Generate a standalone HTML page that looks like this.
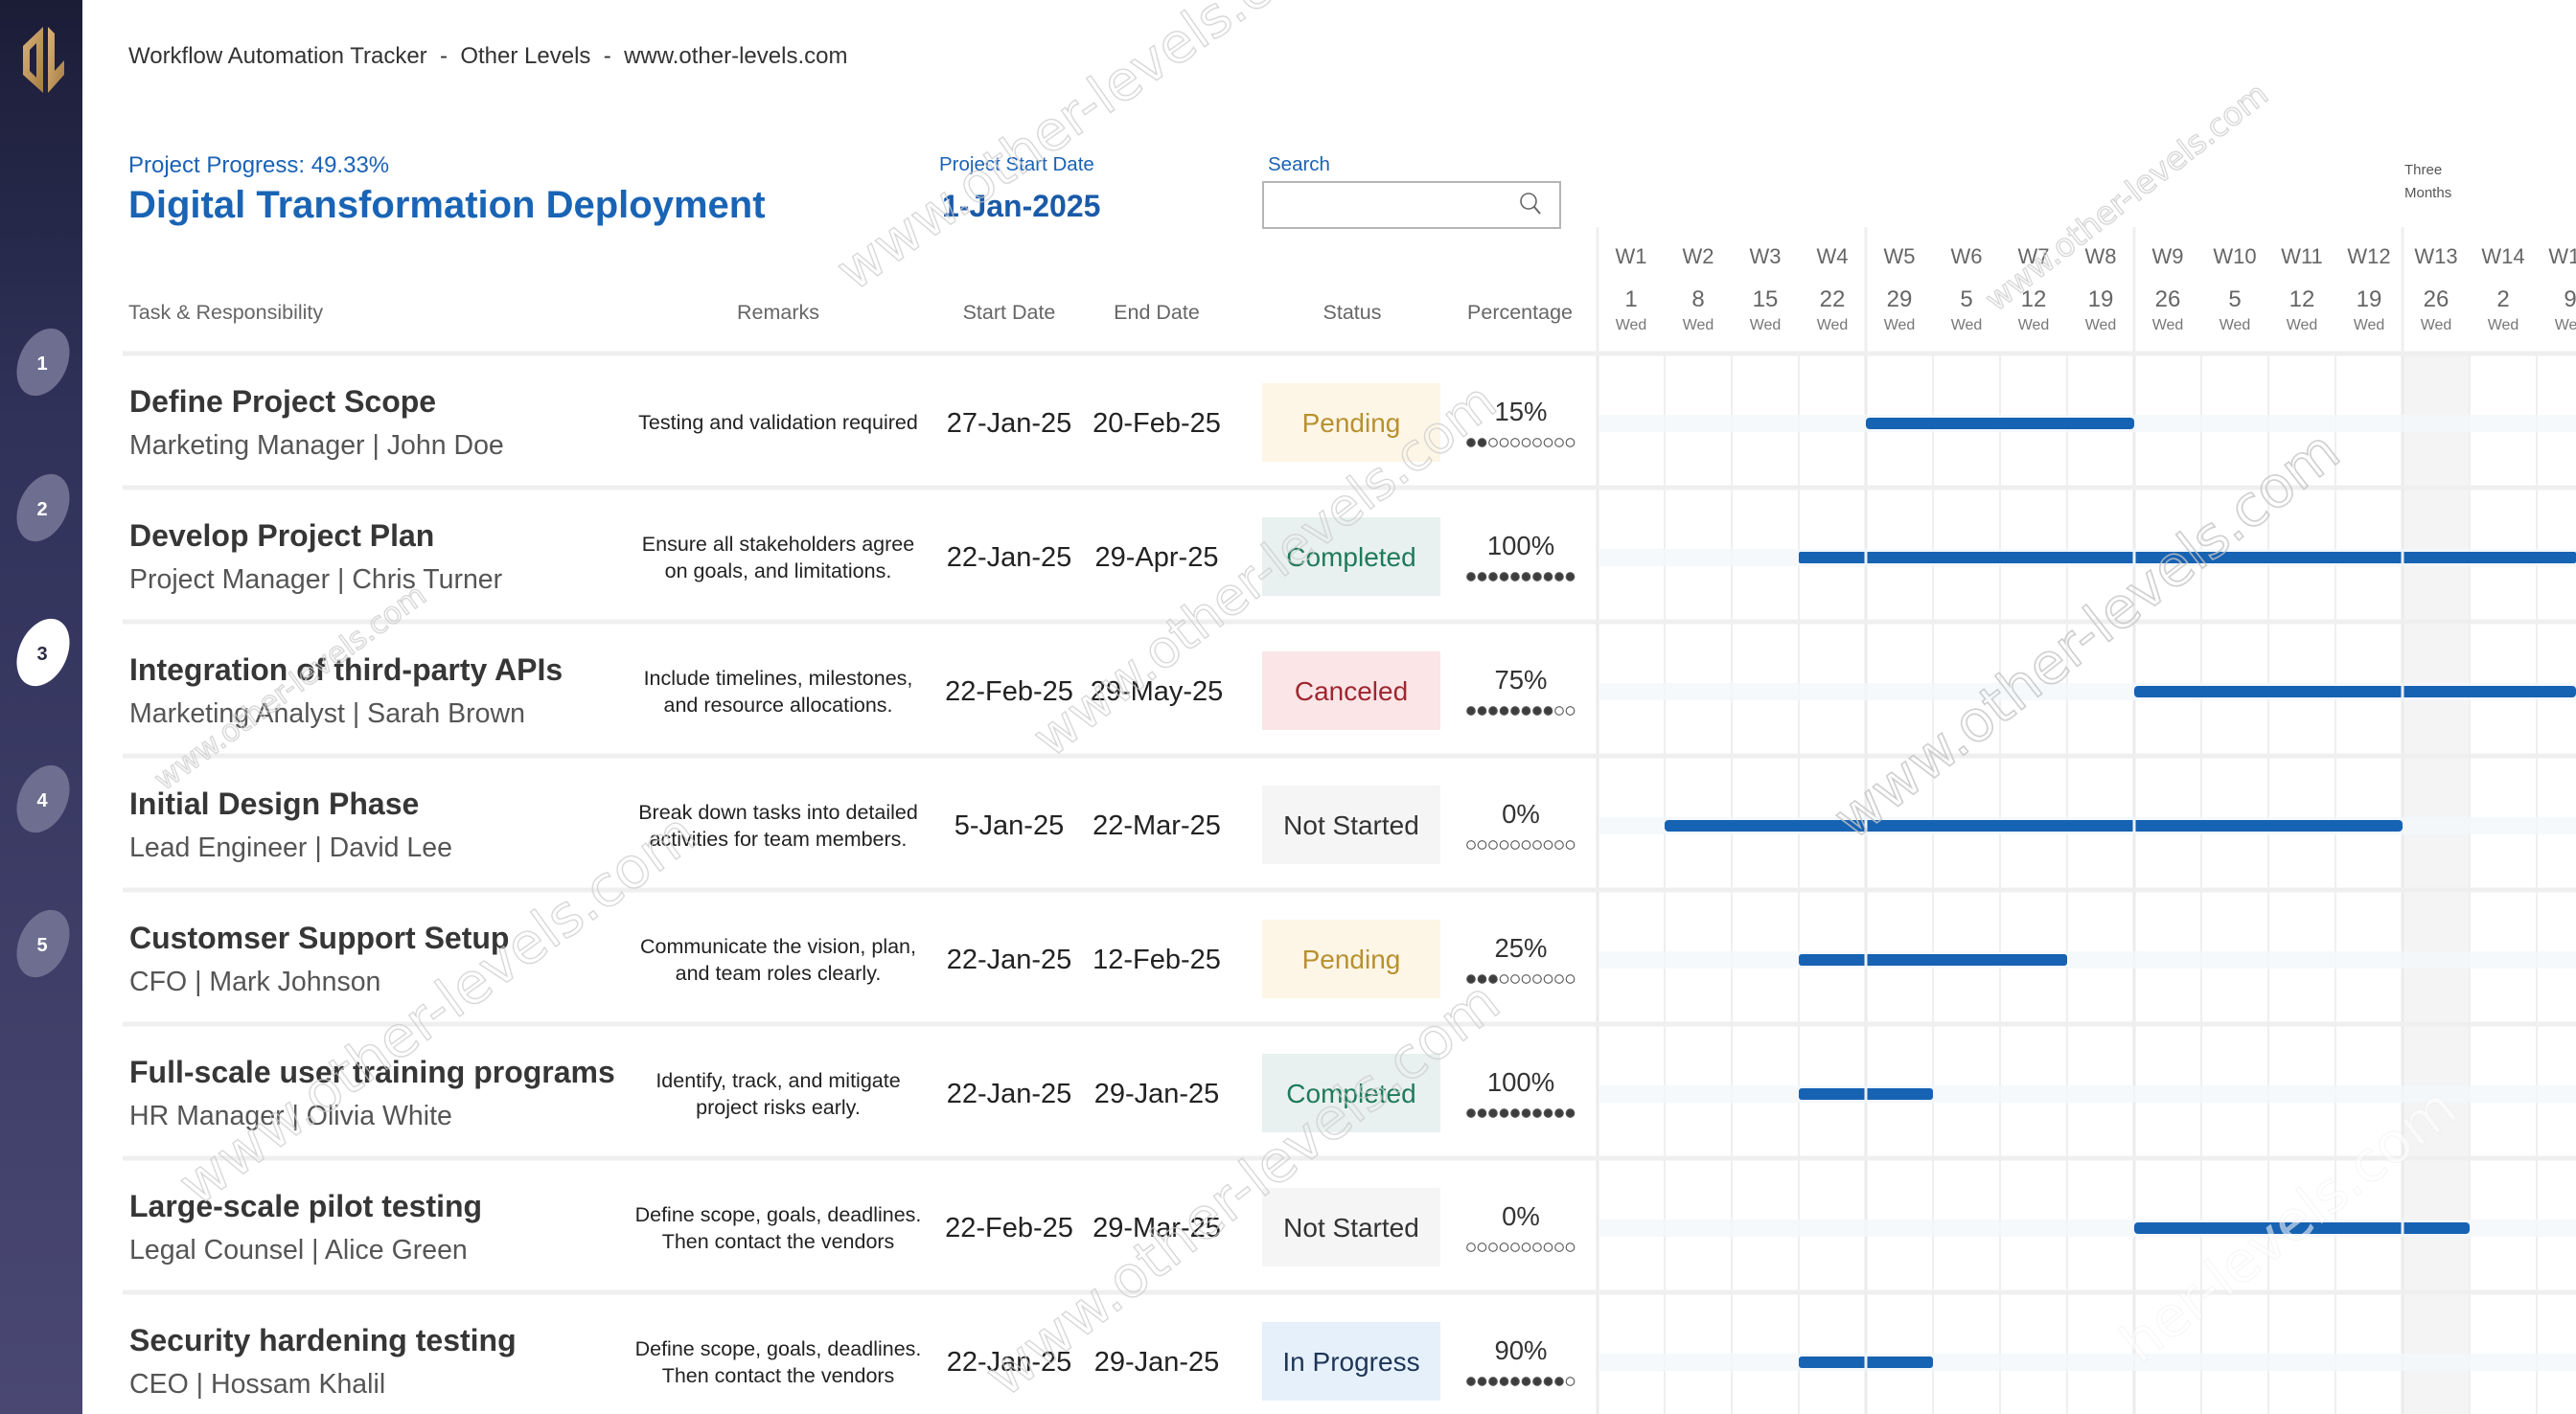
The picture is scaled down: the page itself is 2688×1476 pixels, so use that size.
<!DOCTYPE html>
<html><head><meta charset="utf-8"><style>
html,body{margin:0;padding:0;background:#fff;overflow:hidden;width:2688px;height:1476px;}
svg{display:block;}
</style></head><body>
<svg width="2688" height="1476" viewBox="0 0 2688 1476" xmlns="http://www.w3.org/2000/svg" font-family="'Liberation Sans', Arial, sans-serif" overflow="hidden">
<defs>
<linearGradient id="sb" x1="0" y1="0" x2="0" y2="1">
<stop offset="0" stop-color="#1b1d37"/><stop offset="0.3" stop-color="#30325a"/><stop offset="1" stop-color="#4a4873"/>
</linearGradient>
<linearGradient id="gold" x1="0" y1="0" x2="1" y2="1">
<stop offset="0" stop-color="#d9b37a"/><stop offset="1" stop-color="#a67c44"/>
</linearGradient>
<clipPath id="pg"><rect x="0" y="0" width="2688" height="1476"/></clipPath>
</defs>
<g clip-path="url(#pg)">
<rect width="2688" height="1476" fill="#fff"/>

<!-- Sidebar -->
<rect x="0" y="0" width="86" height="1476" fill="url(#sb)"/>
<path d="M45 28 L45 97 L24 78 L24 48 Z M38 45 L31 52 L31 74 L38 81 Z" fill="url(#gold)" fill-rule="evenodd"/>
<path d="M50 28 L57 35 L57 74 L67 63 L67 78 L50 97 Z" fill="url(#gold)"/>
<g font-weight="bold" font-size="20" text-anchor="middle">
<ellipse cx="45" cy="378" rx="25" ry="37" transform="rotate(25 45 378)" fill="#6e6e90"/>
<text x="44" y="386" fill="#fff">1</text>
<ellipse cx="45" cy="530" rx="25" ry="37" transform="rotate(25 45 530)" fill="#6e6e90"/>
<text x="44" y="538" fill="#fff">2</text>
<ellipse cx="45" cy="681" rx="25" ry="37" transform="rotate(25 45 681)" fill="#ffffff"/>
<text x="44" y="689" fill="#2b2b45">3</text>
<ellipse cx="45" cy="834" rx="25" ry="37" transform="rotate(25 45 834)" fill="#6e6e90"/>
<text x="44" y="842" fill="#fff">4</text>
<ellipse cx="45" cy="985" rx="25" ry="37" transform="rotate(25 45 985)" fill="#6e6e90"/>
<text x="44" y="993" fill="#fff">5</text>
</g>

<!-- Header -->
<text x="134" y="66" font-size="24" fill="#333" xml:space="preserve">Workflow Automation Tracker  -  Other Levels  -  www.other-levels.com</text>
<text x="134" y="180" font-size="24" fill="#1a62b5">Project Progress: 49.33%</text>
<text x="134" y="227" font-size="40" font-weight="bold" fill="#1a64b5">Digital Transformation Deployment</text>
<text x="980" y="178" font-size="20.5" fill="#1a62b5">Project Start Date</text>
<text x="983" y="226" font-size="32" font-weight="bold" fill="#1a5aa8">1-Jan-2025</text>
<text x="1323" y="178" font-size="20.5" fill="#1a62b5">Search</text>
<rect x="1318" y="190" width="310" height="48" fill="#fff" stroke="#b5b5b5" stroke-width="2"/>
<circle cx="1595" cy="210" r="8" fill="none" stroke="#666" stroke-width="1.6"/>
<line x1="1601" y1="216" x2="1607" y2="223" stroke="#666" stroke-width="2"/>

<text x="2509" y="182" font-size="15" fill="#555">Three</text>
<text x="2509" y="206" font-size="15" fill="#555">Months</text>

<!-- Table header -->
<g font-size="21.5" fill="#666">
<text x="134" y="333">Task &amp; Responsibility</text>
<text x="812" y="333" text-anchor="middle">Remarks</text>
<text x="1053" y="333" text-anchor="middle">Start Date</text>
<text x="1207" y="333" text-anchor="middle">End Date</text>
<text x="1411" y="333" text-anchor="middle">Status</text>
<text x="1586" y="333" text-anchor="middle">Percentage</text>
</g>

<!-- Gantt header -->
<g stroke="#efefef" stroke-width="3">
<line x1="1667" y1="237" x2="1667" y2="369"/>
<line x1="1947" y1="237" x2="1947" y2="369"/>
<line x1="2227" y1="237" x2="2227" y2="369"/>
<line x1="2507" y1="237" x2="2507" y2="369"/>
</g>
<g text-anchor="middle" fill="#666">
<g font-size="22">
<text x="1702" y="275">W1</text><text x="1772" y="275">W2</text><text x="1842" y="275">W3</text><text x="1912" y="275">W4</text>
<text x="1982" y="275">W5</text><text x="2052" y="275">W6</text><text x="2122" y="275">W7</text><text x="2192" y="275">W8</text>
<text x="2262" y="275">W9</text><text x="2332" y="275">W10</text><text x="2402" y="275">W11</text><text x="2472" y="275">W12</text>
<text x="2542" y="275">W13</text><text x="2612" y="275">W14</text><text x="2682" y="275">W15</text>
</g>
<g font-size="24">
<text x="1702" y="320">1</text><text x="1772" y="320">8</text><text x="1842" y="320">15</text><text x="1912" y="320">22</text>
<text x="1982" y="320">29</text><text x="2052" y="320">5</text><text x="2122" y="320">12</text><text x="2192" y="320">19</text>
<text x="2262" y="320">26</text><text x="2332" y="320">5</text><text x="2402" y="320">12</text><text x="2472" y="320">19</text>
<text x="2542" y="320">26</text><text x="2612" y="320">2</text><text x="2682" y="320">9</text>
</g>
<g font-size="16" fill="#777">
<text x="1702" y="344">Wed</text><text x="1772" y="344">Wed</text><text x="1842" y="344">Wed</text><text x="1912" y="344">Wed</text>
<text x="1982" y="344">Wed</text><text x="2052" y="344">Wed</text><text x="2122" y="344">Wed</text><text x="2192" y="344">Wed</text>
<text x="2262" y="344">Wed</text><text x="2332" y="344">Wed</text><text x="2402" y="344">Wed</text><text x="2472" y="344">Wed</text>
<text x="2542" y="344">Wed</text><text x="2612" y="344">Wed</text><text x="2682" y="344">Wed</text>
</g>
</g>

<!-- Gantt body -->
<rect x="2507" y="369" width="70" height="1107" fill="#f4f4f4"/>
<g stroke="#efefef" stroke-width="2">
<line x1="1737" y1="369" x2="1737" y2="1476"/><line x1="1807" y1="369" x2="1807" y2="1476"/>
<line x1="1877" y1="369" x2="1877" y2="1476"/><line x1="2017" y1="369" x2="2017" y2="1476"/>
<line x1="2087" y1="369" x2="2087" y2="1476"/><line x1="2157" y1="369" x2="2157" y2="1476"/>
<line x1="2297" y1="369" x2="2297" y2="1476"/><line x1="2367" y1="369" x2="2367" y2="1476"/>
<line x1="2437" y1="369" x2="2437" y2="1476"/><line x1="2577" y1="369" x2="2577" y2="1476"/>
<line x1="2647" y1="369" x2="2647" y2="1476"/>
</g>
<g stroke="#ebebeb" stroke-width="3">
<line x1="1667" y1="369" x2="1667" y2="1476"/><line x1="1947" y1="369" x2="1947" y2="1476"/>
<line x1="2227" y1="369" x2="2227" y2="1476"/><line x1="2507" y1="369" x2="2507" y2="1476"/>
</g>
<g fill="#f3f7fb" opacity="0.8">
<rect x="1669" y="433" width="1019" height="18"/><rect x="1669" y="573" width="1019" height="18"/>
<rect x="1669" y="713" width="1019" height="18"/><rect x="1669" y="853" width="1019" height="18"/>
<rect x="1669" y="993" width="1019" height="18"/><rect x="1669" y="1133" width="1019" height="18"/>
<rect x="1669" y="1273" width="1019" height="18"/><rect x="1669" y="1413" width="1019" height="18"/>
</g>
<g fill="#1662b3">
<rect x="1947" y="436" width="280" height="12" rx="4"/>
<rect x="1877" y="576" width="811" height="12" rx="2"/>
<rect x="2227" y="716" width="461" height="12" rx="4"/>
<rect x="1737" y="856" width="770" height="12" rx="4"/>
<rect x="1877" y="996" width="280" height="12" rx="3"/>
<rect x="1877" y="1136" width="140" height="12" rx="3"/>
<rect x="2227" y="1276" width="350" height="12" rx="4"/>
<rect x="1877" y="1416" width="140" height="12" rx="3"/>
</g>
<g stroke="#eef2f6" stroke-width="3">
<line x1="1947" y1="574" x2="1947" y2="590"/><line x1="2227" y1="574" x2="2227" y2="590"/><line x1="2507" y1="574" x2="2507" y2="590"/>
<line x1="2507" y1="714" x2="2507" y2="730"/>
<line x1="1947" y1="854" x2="1947" y2="870"/><line x1="2227" y1="854" x2="2227" y2="870"/>
<line x1="1947" y1="994" x2="1947" y2="1010"/>
<line x1="1947" y1="1134" x2="1947" y2="1150"/>
<line x1="2507" y1="1274" x2="2507" y2="1290"/>
<line x1="1947" y1="1414" x2="1947" y2="1430"/>
</g>

<!-- Row separators -->
<g stroke="#efefef" stroke-width="5">
<line x1="128" y1="369" x2="2688" y2="369"/>
<line x1="128" y1="509" x2="2688" y2="509"/>
<line x1="128" y1="649" x2="2688" y2="649"/>
<line x1="128" y1="789" x2="2688" y2="789"/>
<line x1="128" y1="929" x2="2688" y2="929"/>
<line x1="128" y1="1069" x2="2688" y2="1069"/>
<line x1="128" y1="1209" x2="2688" y2="1209"/>
<line x1="128" y1="1349" x2="2688" y2="1349"/>
</g>

<!-- Rows -->
<g>
<text x="135" y="430" font-size="32" font-weight="bold" fill="#363636">Define Project Scope</text>
<text x="135" y="474" font-size="28.5" fill="#555">Marketing Manager | John Doe</text>
<text x="812" y="448" font-size="21.5" fill="#222" text-anchor="middle">Testing and validation required</text>
<text x="1053" y="451" font-size="29" fill="#222" text-anchor="middle">27-Jan-25</text>
<text x="1207" y="451" font-size="29" fill="#222" text-anchor="middle">20-Feb-25</text>
<rect x="1317" y="400" width="186" height="82" fill="#fdf6e6"/>
<text x="1410" y="451" font-size="28" fill="#b8902f" text-anchor="middle">Pending</text>
<text x="1587" y="439" font-size="27.5" fill="#333" text-anchor="middle">15%</text>
</g>
<g transform="translate(0,140)">
<text x="135" y="430" font-size="32" font-weight="bold" fill="#363636">Develop Project Plan</text>
<text x="135" y="474" font-size="28.5" fill="#555">Project Manager | Chris Turner</text>
<text x="812" y="435" font-size="21.5" fill="#222" text-anchor="middle">Ensure all stakeholders agree</text>
<text x="812" y="463" font-size="21.5" fill="#222" text-anchor="middle">on goals, and limitations.</text>
<text x="1053" y="451" font-size="29" fill="#222" text-anchor="middle">22-Jan-25</text>
<text x="1207" y="451" font-size="29" fill="#222" text-anchor="middle">29-Apr-25</text>
<rect x="1317" y="400" width="186" height="82" fill="#e8f1ef"/>
<text x="1410" y="451" font-size="28" fill="#1f7a5b" text-anchor="middle">Completed</text>
<text x="1587" y="439" font-size="27.5" fill="#333" text-anchor="middle">100%</text>
</g>
<g transform="translate(0,280)">
<text x="135" y="430" font-size="32" font-weight="bold" fill="#363636">Integration of third-party APIs</text>
<text x="135" y="474" font-size="28.5" fill="#555">Marketing Analyst | Sarah Brown</text>
<text x="812" y="435" font-size="21.5" fill="#222" text-anchor="middle">Include timelines, milestones,</text>
<text x="812" y="463" font-size="21.5" fill="#222" text-anchor="middle">and resource allocations.</text>
<text x="1053" y="451" font-size="29" fill="#222" text-anchor="middle">22-Feb-25</text>
<text x="1207" y="451" font-size="29" fill="#222" text-anchor="middle">29-May-25</text>
<rect x="1317" y="400" width="186" height="82" fill="#fbe5e7"/>
<text x="1410" y="451" font-size="28" fill="#a0262f" text-anchor="middle">Canceled</text>
<text x="1587" y="439" font-size="27.5" fill="#333" text-anchor="middle">75%</text>
</g>
<g transform="translate(0,420)">
<text x="135" y="430" font-size="32" font-weight="bold" fill="#363636">Initial Design Phase</text>
<text x="135" y="474" font-size="28.5" fill="#555">Lead Engineer | David Lee</text>
<text x="812" y="435" font-size="21.5" fill="#222" text-anchor="middle">Break down tasks into detailed</text>
<text x="812" y="463" font-size="21.5" fill="#222" text-anchor="middle">activities for team members.</text>
<text x="1053" y="451" font-size="29" fill="#222" text-anchor="middle">5-Jan-25</text>
<text x="1207" y="451" font-size="29" fill="#222" text-anchor="middle">22-Mar-25</text>
<rect x="1317" y="400" width="186" height="82" fill="#f5f5f5"/>
<text x="1410" y="451" font-size="28" fill="#333" text-anchor="middle">Not Started</text>
<text x="1587" y="439" font-size="27.5" fill="#333" text-anchor="middle">0%</text>
</g>
<g transform="translate(0,560)">
<text x="135" y="430" font-size="32" font-weight="bold" fill="#363636">Customser Support Setup</text>
<text x="135" y="474" font-size="28.5" fill="#555">CFO | Mark Johnson</text>
<text x="812" y="435" font-size="21.5" fill="#222" text-anchor="middle">Communicate the vision, plan,</text>
<text x="812" y="463" font-size="21.5" fill="#222" text-anchor="middle">and team roles clearly.</text>
<text x="1053" y="451" font-size="29" fill="#222" text-anchor="middle">22-Jan-25</text>
<text x="1207" y="451" font-size="29" fill="#222" text-anchor="middle">12-Feb-25</text>
<rect x="1317" y="400" width="186" height="82" fill="#fdf6e6"/>
<text x="1410" y="451" font-size="28" fill="#b8902f" text-anchor="middle">Pending</text>
<text x="1587" y="439" font-size="27.5" fill="#333" text-anchor="middle">25%</text>
</g>
<g transform="translate(0,700)">
<text x="135" y="430" font-size="32" font-weight="bold" fill="#363636">Full-scale user training programs</text>
<text x="135" y="474" font-size="28.5" fill="#555">HR Manager | Olivia White</text>
<text x="812" y="435" font-size="21.5" fill="#222" text-anchor="middle">Identify, track, and mitigate</text>
<text x="812" y="463" font-size="21.5" fill="#222" text-anchor="middle">project risks early.</text>
<text x="1053" y="451" font-size="29" fill="#222" text-anchor="middle">22-Jan-25</text>
<text x="1207" y="451" font-size="29" fill="#222" text-anchor="middle">29-Jan-25</text>
<rect x="1317" y="400" width="186" height="82" fill="#e8f1ef"/>
<text x="1410" y="451" font-size="28" fill="#1f7a5b" text-anchor="middle">Completed</text>
<text x="1587" y="439" font-size="27.5" fill="#333" text-anchor="middle">100%</text>
</g>
<g transform="translate(0,840)">
<text x="135" y="430" font-size="32" font-weight="bold" fill="#363636">Large-scale pilot testing</text>
<text x="135" y="474" font-size="28.5" fill="#555">Legal Counsel | Alice Green</text>
<text x="812" y="435" font-size="21.5" fill="#222" text-anchor="middle">Define scope, goals, deadlines.</text>
<text x="812" y="463" font-size="21.5" fill="#222" text-anchor="middle">Then contact the vendors</text>
<text x="1053" y="451" font-size="29" fill="#222" text-anchor="middle">22-Feb-25</text>
<text x="1207" y="451" font-size="29" fill="#222" text-anchor="middle">29-Mar-25</text>
<rect x="1317" y="400" width="186" height="82" fill="#f5f5f5"/>
<text x="1410" y="451" font-size="28" fill="#333" text-anchor="middle">Not Started</text>
<text x="1587" y="439" font-size="27.5" fill="#333" text-anchor="middle">0%</text>
</g>
<g transform="translate(0,980)">
<text x="135" y="430" font-size="32" font-weight="bold" fill="#363636">Security hardening testing</text>
<text x="135" y="474" font-size="28.5" fill="#555">CEO | Hossam Khalil</text>
<text x="812" y="435" font-size="21.5" fill="#222" text-anchor="middle">Define scope, goals, deadlines.</text>
<text x="812" y="463" font-size="21.5" fill="#222" text-anchor="middle">Then contact the vendors</text>
<text x="1053" y="451" font-size="29" fill="#222" text-anchor="middle">22-Jan-25</text>
<text x="1207" y="451" font-size="29" fill="#222" text-anchor="middle">29-Jan-25</text>
<rect x="1317" y="400" width="186" height="82" fill="#e5f0fb"/>
<text x="1410" y="451" font-size="28" fill="#1d3557" text-anchor="middle">In Progress</text>
<text x="1587" y="439" font-size="27.5" fill="#333" text-anchor="middle">90%</text>
</g>

<!-- Progress dots -->
<g stroke="#555" stroke-width="1.1">
<g>
<circle cx="1535" cy="462" r="4.3" fill="#3d3d3d"/><circle cx="1546.5" cy="462" r="4.3" fill="#3d3d3d"/><circle cx="1558" cy="462" r="4.3" fill="#fff"/><circle cx="1569.5" cy="462" r="4.3" fill="#fff"/><circle cx="1581" cy="462" r="4.3" fill="#fff"/><circle cx="1592.5" cy="462" r="4.3" fill="#fff"/><circle cx="1604" cy="462" r="4.3" fill="#fff"/><circle cx="1615.5" cy="462" r="4.3" fill="#fff"/><circle cx="1627" cy="462" r="4.3" fill="#fff"/><circle cx="1638.5" cy="462" r="4.3" fill="#fff"/>
</g>
<g transform="translate(0,140)">
<circle cx="1535" cy="462" r="4.3" fill="#3d3d3d"/><circle cx="1546.5" cy="462" r="4.3" fill="#3d3d3d"/><circle cx="1558" cy="462" r="4.3" fill="#3d3d3d"/><circle cx="1569.5" cy="462" r="4.3" fill="#3d3d3d"/><circle cx="1581" cy="462" r="4.3" fill="#3d3d3d"/><circle cx="1592.5" cy="462" r="4.3" fill="#3d3d3d"/><circle cx="1604" cy="462" r="4.3" fill="#3d3d3d"/><circle cx="1615.5" cy="462" r="4.3" fill="#3d3d3d"/><circle cx="1627" cy="462" r="4.3" fill="#3d3d3d"/><circle cx="1638.5" cy="462" r="4.3" fill="#3d3d3d"/>
</g>
<g transform="translate(0,280)">
<circle cx="1535" cy="462" r="4.3" fill="#3d3d3d"/><circle cx="1546.5" cy="462" r="4.3" fill="#3d3d3d"/><circle cx="1558" cy="462" r="4.3" fill="#3d3d3d"/><circle cx="1569.5" cy="462" r="4.3" fill="#3d3d3d"/><circle cx="1581" cy="462" r="4.3" fill="#3d3d3d"/><circle cx="1592.5" cy="462" r="4.3" fill="#3d3d3d"/><circle cx="1604" cy="462" r="4.3" fill="#3d3d3d"/><circle cx="1615.5" cy="462" r="4.3" fill="#3d3d3d"/><circle cx="1627" cy="462" r="4.3" fill="#fff"/><circle cx="1638.5" cy="462" r="4.3" fill="#fff"/>
</g>
<g transform="translate(0,420)">
<circle cx="1535" cy="462" r="4.3" fill="#fff"/><circle cx="1546.5" cy="462" r="4.3" fill="#fff"/><circle cx="1558" cy="462" r="4.3" fill="#fff"/><circle cx="1569.5" cy="462" r="4.3" fill="#fff"/><circle cx="1581" cy="462" r="4.3" fill="#fff"/><circle cx="1592.5" cy="462" r="4.3" fill="#fff"/><circle cx="1604" cy="462" r="4.3" fill="#fff"/><circle cx="1615.5" cy="462" r="4.3" fill="#fff"/><circle cx="1627" cy="462" r="4.3" fill="#fff"/><circle cx="1638.5" cy="462" r="4.3" fill="#fff"/>
</g>
<g transform="translate(0,560)">
<circle cx="1535" cy="462" r="4.3" fill="#3d3d3d"/><circle cx="1546.5" cy="462" r="4.3" fill="#3d3d3d"/><circle cx="1558" cy="462" r="4.3" fill="#3d3d3d"/><circle cx="1569.5" cy="462" r="4.3" fill="#fff"/><circle cx="1581" cy="462" r="4.3" fill="#fff"/><circle cx="1592.5" cy="462" r="4.3" fill="#fff"/><circle cx="1604" cy="462" r="4.3" fill="#fff"/><circle cx="1615.5" cy="462" r="4.3" fill="#fff"/><circle cx="1627" cy="462" r="4.3" fill="#fff"/><circle cx="1638.5" cy="462" r="4.3" fill="#fff"/>
</g>
<g transform="translate(0,700)">
<circle cx="1535" cy="462" r="4.3" fill="#3d3d3d"/><circle cx="1546.5" cy="462" r="4.3" fill="#3d3d3d"/><circle cx="1558" cy="462" r="4.3" fill="#3d3d3d"/><circle cx="1569.5" cy="462" r="4.3" fill="#3d3d3d"/><circle cx="1581" cy="462" r="4.3" fill="#3d3d3d"/><circle cx="1592.5" cy="462" r="4.3" fill="#3d3d3d"/><circle cx="1604" cy="462" r="4.3" fill="#3d3d3d"/><circle cx="1615.5" cy="462" r="4.3" fill="#3d3d3d"/><circle cx="1627" cy="462" r="4.3" fill="#3d3d3d"/><circle cx="1638.5" cy="462" r="4.3" fill="#3d3d3d"/>
</g>
<g transform="translate(0,840)">
<circle cx="1535" cy="462" r="4.3" fill="#fff"/><circle cx="1546.5" cy="462" r="4.3" fill="#fff"/><circle cx="1558" cy="462" r="4.3" fill="#fff"/><circle cx="1569.5" cy="462" r="4.3" fill="#fff"/><circle cx="1581" cy="462" r="4.3" fill="#fff"/><circle cx="1592.5" cy="462" r="4.3" fill="#fff"/><circle cx="1604" cy="462" r="4.3" fill="#fff"/><circle cx="1615.5" cy="462" r="4.3" fill="#fff"/><circle cx="1627" cy="462" r="4.3" fill="#fff"/><circle cx="1638.5" cy="462" r="4.3" fill="#fff"/>
</g>
<g transform="translate(0,980)">
<circle cx="1535" cy="462" r="4.3" fill="#3d3d3d"/><circle cx="1546.5" cy="462" r="4.3" fill="#3d3d3d"/><circle cx="1558" cy="462" r="4.3" fill="#3d3d3d"/><circle cx="1569.5" cy="462" r="4.3" fill="#3d3d3d"/><circle cx="1581" cy="462" r="4.3" fill="#3d3d3d"/><circle cx="1592.5" cy="462" r="4.3" fill="#3d3d3d"/><circle cx="1604" cy="462" r="4.3" fill="#3d3d3d"/><circle cx="1615.5" cy="462" r="4.3" fill="#3d3d3d"/><circle cx="1627" cy="462" r="4.3" fill="#3d3d3d"/><circle cx="1638.5" cy="462" r="4.3" fill="#fff"/>
</g>
</g>

<!-- Watermarks -->
<g font-family="'DejaVu Sans', sans-serif" fill="none" stroke="#cdcdcd" stroke-width="1.3" opacity="0.85">
<text x="891" y="305" font-size="57" transform="rotate(-35 891 305)">www.other-levels.com</text>
<text x="2083" y="326" font-size="33" transform="rotate(-38 2083 326)">www.other-levels.com</text>
<text x="1097" y="792" font-size="54" transform="rotate(-38 1097 792)">www.other-levels.com</text>
<text x="1934" y="878" font-size="59" stroke="#c4c4c4" stroke-width="1.6" transform="rotate(-38 1934 878)">www.other-levels.com</text>
<text x="171" y="826" font-size="31" transform="rotate(-36 171 826)">www.other-levels.com</text>
<text x="206" y="1260" font-size="59" transform="rotate(-36 206 1260)">www.other-levels.com</text>
<text x="1049" y="1460" font-size="60" transform="rotate(-38 1049 1460)">www.other-levels.com</text>
</g>
<text x="2233" y="1425" font-family="'DejaVu Sans', sans-serif" font-size="58" fill="#ffffff" fill-opacity="0.55" stroke="#e6e6e6" stroke-width="1" stroke-opacity="0.4" transform="rotate(-38 2233 1425)">her-levels.com</text>
</g>
</svg>
</body></html>
